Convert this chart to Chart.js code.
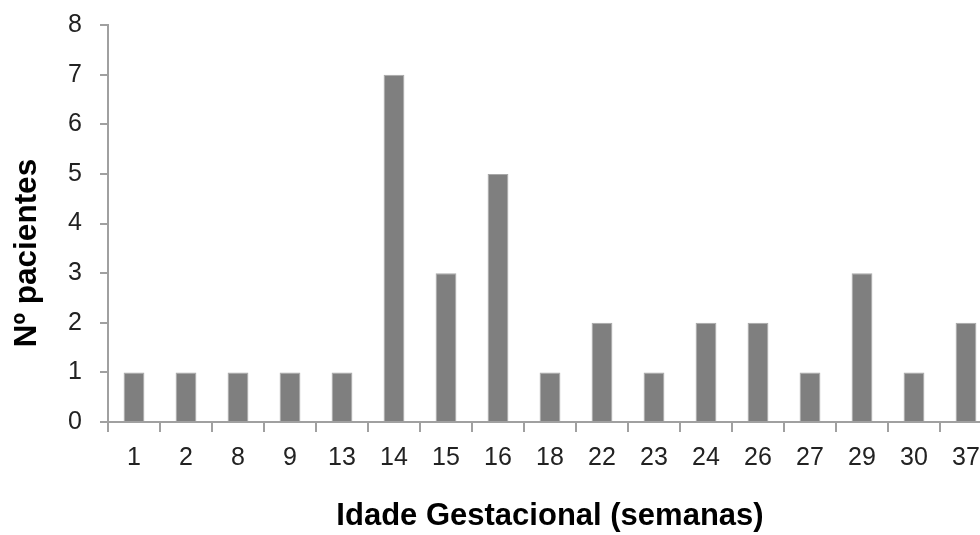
<!DOCTYPE html>
<html>
<head>
<meta charset="utf-8">
<script src="https://cdn.jsdelivr.net/npm/chart.js@4"></script>
<style>
  html, body { margin: 0; padding: 0; background: #fff; overflow: hidden; }
  #wrap { width: 1000px; height: 535px; }
</style>
</head>
<body>
<div id="wrap"><canvas id="chart" width="1000" height="535"></canvas></div>
<script>
// weeks of gestation and number of patients
const weeks = ["1","2","8","9","13","14","15","16","18","22","23","24","26","27","29","30","37"];
const patients = [1,1,1,1,1,7,3,5,1,2,1,2,2,1,3,1,2];
const yTitle = "N\u00ba pacientes";
const xTitle = "Idade Gestacional (semanas)";

const FAMILY = "'Liberation Sans', Arial, sans-serif";
const tickFont = { family: FAMILY, size: 25 };
const titleFont = { family: FAMILY, size: 31, weight: "bold" };

// y title sits a bit below the axis middle in the original, so draw it by hand
const yTitlePlugin = {
  id: "yTitle",
  afterDraw(chart) {
    const c = chart.ctx;
    c.save();
    c.translate(27, 253);
    c.rotate(-Math.PI / 2);
    c.font = "bold 31.5px " + FAMILY;
    c.fillStyle = "#000";
    c.textAlign = "center";
    c.textBaseline = "middle";
    c.fillText(yTitle, 0, 0);
    c.restore();
  }
};

new Chart(document.getElementById("chart"), {
  type: "bar",
  data: {
    labels: weeks,
    datasets: [{
      data: patients,
      backgroundColor: "#7f7f7f",
      borderColor: "#a8a8a8",
      borderWidth: 1,
      borderSkipped: "bottom",
      barPercentage: 0.4,
      categoryPercentage: 1
    }]
  },
  options: {
    responsive: false,
    animation: false,
    events: [],
    layout: { padding: { left: 12, top: 25, right: 8, bottom: 0 } },
    plugins: { legend: { display: false }, tooltip: { enabled: false } },
    scales: {
      x: {
        grid: { display: true, offset: true, drawOnChartArea: false, tickLength: 10, color: "#a0a0a0", lineWidth: 2 },
        border: { color: "#a0a0a0", width: 2 },
        ticks: { font: tickFont, color: "#222", padding: 11, maxRotation: 0, autoSkip: false },
        title: { display: true, text: xTitle, font: titleFont, color: "#000", padding: 0 },
        afterFit: s => { s.height = 113; }
      },
      y: {
        min: 0, max: 8,
        grid: { display: true, drawOnChartArea: false, tickLength: 8, color: "#a0a0a0", lineWidth: 2 },
        border: { color: "#a0a0a0", width: 2 },
        ticks: { stepSize: 1, font: Object.assign({}, tickFont, { lineHeight: 0.4 }), color: "#222", padding: 18 },
        afterFit: s => { s.width = 96; }
      }
    }
  },
  plugins: [yTitlePlugin]
});
</script>
</body>
</html>
